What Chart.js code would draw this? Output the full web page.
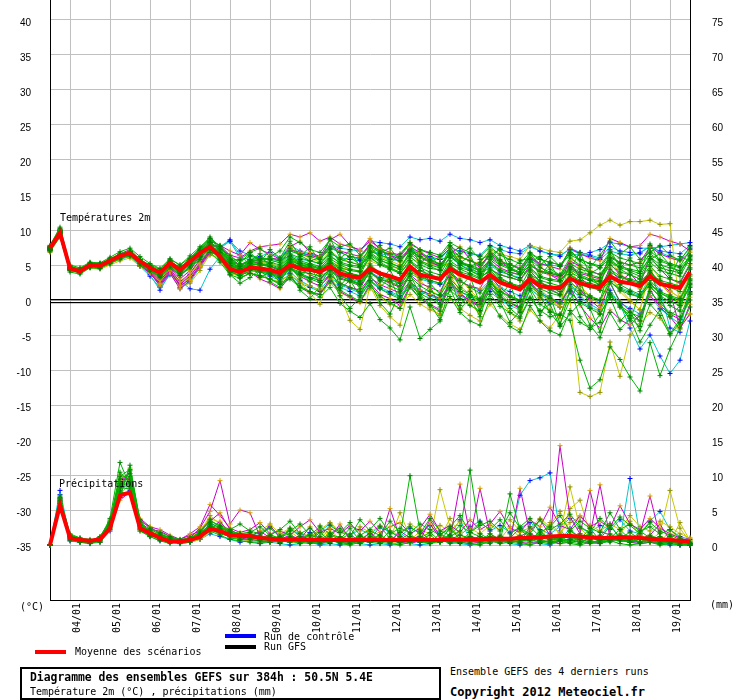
<!DOCTYPE html>
<html>
<head>
<meta charset="utf-8">
<script src="https://cdn.jsdelivr.net/npm/chart.js@4"></script>
<style>
html,body{margin:0;padding:0;background:#fff;}
#wrap{position:relative;width:740px;height:700px;background:#fff;overflow:hidden;}
#c{position:absolute;left:0;top:-28px;}
.t{position:absolute;font-family:"DejaVu Sans Mono",monospace;font-size:10px;line-height:12px;color:#000;white-space:pre;}
.b{font-weight:bold;}
.bar{position:absolute;height:4px;}
#box{position:absolute;left:20px;top:667px;width:417px;height:29px;border:2px solid #000;}
</style>
</head>
<body>
<div id="wrap">
<canvas id="c" width="740" height="678"></canvas>
<div class="t" style="left:60px;top:212px;">Températures 2m</div>
<div class="t" style="left:59px;top:478px;">Précipitations</div>
<div class="t" style="left:20px;top:601px;">(°C)</div>
<div class="t" style="left:710px;top:599px;">(mm)</div>
<div class="bar" style="left:35px;top:650px;width:31px;background:#ff0000;"></div>
<div class="t" style="left:75px;top:646px;">Moyenne des scénarios</div>
<div class="bar" style="left:225px;top:634px;width:31px;background:#0000ff;"></div>
<div class="t" style="left:264px;top:631px;">Run de contrôle</div>
<div class="bar" style="left:225px;top:645px;width:31px;background:#000;"></div>
<div class="t" style="left:264px;top:641px;">Run GFS</div>
<div id="box"></div>
<div class="t b" style="left:30px;top:670px;font-size:11.4px;line-height:14px;">Diagramme des ensembles GEFS sur 384h : 50.5N 5.4E</div>
<div class="t" style="left:30px;top:686px;">Température 2m (°C) , précipitations (mm)</div>
<div class="t" style="left:450px;top:666px;">Ensemble GEFS des 4 derniers runs</div>
<div class="t b" style="left:450px;top:685px;font-size:12px;line-height:14px;">Copyright 2012 Meteociel.fr</div>
</div>
<script>
// ---- axis tick labels ----
const dayLabels = ['04/01','05/01','06/01','07/01','08/01','09/01','10/01','11/01','12/01','13/01','14/01','15/01','16/01','17/01','18/01','19/01'];
const tempTicks = [-35,-30,-25,-20,-15,-10,-5,0,5,10,15,20,25,30,35,40];
const precipTicks = [0,5,10,15,20,25,30,35,40,45,50,55,60,65,70,75];
// time steps: 6-hourly from 03/01 12h to 19/01 12h (65 steps)
const steps = ['03/01 12h','03/01 18h','04/01 00h','04/01 06h','04/01 12h','04/01 18h','05/01 00h','05/01 06h','05/01 12h','05/01 18h','06/01 00h','06/01 06h','06/01 12h','06/01 18h','07/01 00h','07/01 06h','07/01 12h','07/01 18h','08/01 00h','08/01 06h','08/01 12h','08/01 18h','09/01 00h','09/01 06h','09/01 12h','09/01 18h','10/01 00h','10/01 06h','10/01 12h','10/01 18h','11/01 00h','11/01 06h','11/01 12h','11/01 18h','12/01 00h','12/01 06h','12/01 12h','12/01 18h','13/01 00h','13/01 06h','13/01 12h','13/01 18h','14/01 00h','14/01 06h','14/01 12h','14/01 18h','15/01 00h','15/01 06h','15/01 12h','15/01 18h','16/01 00h','16/01 06h','16/01 12h','16/01 18h','17/01 00h','17/01 06h','17/01 12h','17/01 18h','18/01 00h','18/01 06h','18/01 12h','18/01 18h','19/01 00h','19/01 06h','19/01 12h'];

// ---- mean of scenarios ----
const tempMean = [7.4,9.6,4.5,4.1, 5.0,4.9,5.6,6.3, 6.7,5.5,4.6,3.9, 5.3,4.3,5.5,6.7, 7.6,6.2,4.4,4.0, 4.6,4.5,4.3,3.9, 5.0,4.5,4.3,4.0, 4.8,3.8,3.4,3.2, 4.5,3.8,3.4,2.9, 4.8,3.6,3.3,3.0, 4.5,3.6,3.1,2.5, 3.6,2.5,2.0,1.5, 3.0,2.0,1.8,1.7, 3.1,2.4,2.0,1.8, 3.4,2.6,2.4,2.0, 3.4,2.3,2.0,1.7, 4.0];
const precipMean = [0,5.7,1.0,0.7, 0.6,0.8,2.4,7.1, 7.5,2.4,1.7,1.0, 0.5,0.5,0.7,1.2, 2.3,2.0,1.4,1.3, 1.3,1.0,0.9,0.8, 0.8,0.8,0.7,0.7, 0.7,0.7,0.7,0.7, 0.7,0.7,0.7,0.7, 0.7,0.8,0.7,0.7, 0.8,0.8,0.8,0.8, 0.9,0.9,0.9,1.0, 1.0,1.1,1.2,1.3, 1.3,1.2,1.1,1.0, 1.0,1.1,1.1,1.0, 0.9,0.8,0.7,0.6, 0.5];

// ---- temperature members (green run) ----
const tG1 = [7.6,10.2,4.8,4.3, 5.2,5.1,5.9,6.6, 7.0,5.8,4.9,4.2, 5.6,4.6,5.8,7.1, 8.2,6.8,4.9,4.5, 5.2,5.0,4.8,4.4, 5.8,5.2,5.0,4.6, 5.9,5.0,4.4,4.1, 6.0,5.1,4.6,4.0, 6.2,5.0,4.5,4.3, 6.1,5.2,4.8,4.1, 5.4,4.3,3.9,3.6, 5.0,4.1,3.8,3.5, 5.2,4.4,4.0,3.7, 5.6,4.8,4.4,4.1, 5.9,4.6,4.2,3.9, 6.4];
const tG2 = [7.2,9.4,4.3,4.0, 4.8,4.7,5.4,6.1, 6.5,5.2,4.3,3.6, 5.0,4.0,5.2,6.4, 7.4,6.0,4.0,3.5, 4.2,4.0,3.7,3.2, 4.4,3.6,3.0,2.5, 3.6,2.4,1.8,1.2, 2.8,1.6,0.8,0.2, 2.0,0.9,0.2,-0.6, 1.4,0.2,-0.8,-1.5, 0.8,-0.9,-1.8,-2.6, 0.2,-1.5,-2.4,-2.0, -2.9,-8.6,-12.6,-11.4, -6.7,-8.5,-11.0,-13.0, -6.1,-10.8,-7.0,-4.0, -1.0];
const tG3 = [7.0,9.0,4.0,3.7, 4.6,4.5,5.2,5.9, 6.3,5.0,4.1,3.4, 4.6,3.5,4.6,5.8, 6.8,5.4,3.6,3.1, 3.8,3.5,3.0,2.4, 3.2,2.0,1.2,0.4, 1.8,-0.5,-1.6,-2.5, -0.5,-2.8,-4.0,-5.7, -1.0,-5.5,-4.2,-3.0, 0.5,-1.8,-3.0,-3.6, 0.2,-2.4,-3.8,-4.6, -0.8,-3.0,-4.4,-5.0, -1.5,-3.2,-4.0,-3.2, 0.8,-1.0,-2.2,-3.0, 1.2,-0.4,-1.8,-2.4, 1.0];
const tG4 = [7.8,10.4,5.0,4.6, 5.4,5.3,6.1,6.9, 7.4,6.2,5.2,4.5, 5.9,5.0,6.3,7.6, 8.8,7.3,5.4,5.0, 5.8,5.9,5.7,5.3, 7.0,6.5,6.2,5.8, 7.6,6.8,6.2,6.0, 7.8,7.0,6.6,6.2, 8.0,7.2,6.8,6.4, 8.2,7.4,6.8,6.2, 7.6,6.4,5.8,5.2, 6.8,5.8,5.4,5.0, 6.4,5.8,5.2,4.9, 6.8,6.0,5.6,5.2, 7.0,5.8,5.2,4.8, 7.2];
const tG5 = [7.3,9.7,4.6,4.2, 5.0,5.0,5.7,6.4, 6.8,5.6,4.7,4.0, 5.4,4.4,5.7,7.0, 8.0,6.4,4.6,4.1, 4.8,4.6,4.4,4.0, 5.4,4.8,4.6,4.2, 5.2,4.2,3.8,3.5, 6.4,5.4,4.6,3.8, 5.6,4.2,3.6,3.0, 4.0,2.8,1.8,1.0, 2.6,1.2,0.6,0.0, 2.4,1.0,0.2,-0.4, 2.0,0.8,0.4,0.0, 2.6,1.4,0.8,0.4, 2.8,1.2,0.6,0.2, 3.0];
const tG6 = [7.5,9.9,4.4,4.0, 4.9,4.8,5.5,6.2, 6.6,5.4,4.5,3.8, 5.2,4.2,5.3,6.6, 7.8,6.6,4.8,4.4, 5.0,5.2,5.0,4.6, 6.2,5.6,5.2,4.8, 6.4,5.2,4.8,4.6, 6.8,5.8,5.0,4.4, 7.0,5.6,5.0,4.6, 6.6,5.4,4.6,3.8, 4.6,3.2,2.4,1.8, 4.4,3.2,2.8,2.6, 4.6,3.6,3.0,2.8, 5.0,4.0,3.6,3.0, 4.8,3.4,3.0,2.6, 5.2];
const tG7 = [7.1,9.3,4.2,3.9, 4.7,4.6,5.3,6.0, 6.4,5.3,4.4,3.7, 5.1,4.1,5.0,6.2, 7.2,5.8,4.0,3.6, 4.4,4.2,4.0,3.6, 4.6,4.0,3.8,3.4, 4.2,3.0,2.6,2.4, 3.8,3.0,2.6,2.0, 4.2,3.2,2.8,2.4, 4.8,4.0,3.6,3.0, 4.4,3.6,3.2,2.8, 4.6,3.4,3.0,2.8, 4.0,3.2,2.8,2.6, 5.4,4.6,4.2,3.8, 6.2,5.0,4.6,4.2, 5.8];
const tG8 = [7.4,9.8,4.7,4.4, 5.3,5.2,5.8,6.5, 6.9,5.7,4.8,4.1, 5.5,4.5,5.9,7.2, 8.4,7.0,5.2,4.8, 5.6,5.6,5.4,5.0, 6.6,6.0,5.6,5.2, 6.8,5.8,5.4,5.0, 6.2,5.0,4.4,3.8, 5.4,4.2,3.6,3.2, 5.6,4.6,4.2,3.6, 5.2,4.2,3.6,3.0, 1.6,-0.6,-1.6,-2.2, 1.2,-0.4,-1.2,-2.0, 0.6,-0.8,-1.8,-2.4, 1.8,0.6,-0.2,-0.8, 2.0];
const tG9 = [7.3,9.6,4.5,4.1, 5.0,4.9,5.6,6.3, 6.7,5.5,4.6,3.6, 5.3,4.2,5.4,6.6, 8.2,7.2,5.6,5.0, 5.4,5.2,4.8,4.4, 6.0,5.4,5.0,4.4, 5.2,3.6,2.8,2.2, 4.6,3.6,3.0,2.4, 4.6,3.4,2.8,2.4, 5.0,3.8,3.2,2.6, 6.0,5.0,4.4,3.8, 4.2,2.6,1.8,1.2, 2.6,1.4,0.6,0.0, 4.4,3.4,3.0,2.6, 4.0,2.6,1.8,1.2, 4.6];
const tG10 = [7.5,9.9,4.6,4.2, 5.1,5.0,5.7,6.4, 6.8,5.6,4.8,4.0, 5.4,4.4,5.6,7.0, 8.8,7.6,5.8,5.0, 5.6,5.8,6.0,5.6, 6.4,5.2,4.6,4.0, 5.6,4.6,4.2,4.0, 6.6,5.6,5.2,4.8, 6.6,5.4,4.8,4.2, 7.0,6.2,5.6,5.0, 6.2,5.2,4.6,4.0, 6.6,5.8,5.4,5.0, 6.8,5.8,5.2,4.6, 6.0,4.4,3.6,3.0, 5.4,4.2,3.8,3.4, 6.0];
const tG11 = [7.2,9.5,4.4,4.0, 4.9,4.8,5.4,6.1, 6.5,5.3,4.3,3.4, 5.0,3.8,5.0,6.2, 7.6,6.4,4.4,3.2, 3.8,3.4,3.0,2.2, 3.0,1.8,1.2,0.8, 2.6,1.4,0.6,-0.2, 2.0,0.6,-0.4,-1.2, 1.8,0.2,-0.8,-1.6, 2.4,1.2,0.6,0.0, 2.2,0.6,-0.4,-1.0, 3.2,2.0,1.4,0.8, 3.6,2.6,2.0,1.4, 1.0,-1.0,-2.6,-3.8, 2.0,0.4,-0.8,-1.6, 3.6];
const tG12 = [7.4,9.7,4.5,4.2, 5.0,4.9,5.6,6.4, 6.8,5.5,4.5,3.8, 5.2,4.3,5.5,6.8, 8.0,6.6,4.6,4.2, 4.6,4.4,4.2,3.8, 5.2,4.6,4.2,3.8, 5.4,4.4,3.8,3.4, 5.0,3.8,3.2,2.8, 4.8,3.8,3.4,3.0, 5.2,4.4,3.8,3.2, 4.2,3.0,2.4,2.0, 3.4,2.4,2.0,1.8, 3.6,2.8,2.4,2.0, 4.0,3.2,2.8,2.4, 3.8,2.8,2.4,2.0, 4.4];
const tG13 = [7.2,9.5,4.4,4.0, 5.0,4.8,5.5,6.2, 6.6,5.4,4.4,3.6, 5.2,4.0,5.2,6.5, 7.8,6.2,4.2,3.8, 4.6,4.6,4.4,4.0, 5.6,5.0,4.8,4.4, 6.2,5.4,5.0,4.8, 7.0,6.4,6.0,5.6, 7.2,6.2,5.6,5.2, 6.4,5.0,4.2,3.4, 4.0,2.8,2.2,1.6, 2.8,1.6,1.0,0.6, 3.0,2.2,1.8,1.4, 2.6,1.6,1.0,0.4, 2.2,1.0,0.4,0.0, 2.8];
const tG14 = [7.6,10.0,4.6,4.3, 5.2,5.1,5.8,6.5, 6.9,5.7,4.7,4.0, 5.4,4.5,5.7,6.9, 8.0,6.4,4.4,4.0, 4.4,4.2,3.8,3.4, 4.6,3.8,3.2,2.8, 4.6,3.4,2.8,2.4, 4.8,3.8,3.2,2.6, 5.6,4.6,4.0,3.6, 6.2,5.4,5.0,4.4, 6.6,5.6,5.0,4.4, 5.8,4.6,4.0,3.6, 4.4,3.4,2.8,2.2, 3.6,2.2,1.4,0.8, 2.4,1.0,0.2,-0.4, 1.8];
const tG15 = [7.3,9.7,4.6,4.2, 5.0,4.9,5.6,6.3, 6.7,5.4,4.5,3.8, 5.2,4.2,5.4,6.6, 7.8,6.8,5.0,4.6, 5.2,5.0,4.8,4.4, 5.8,5.0,4.6,4.2, 5.0,3.8,3.2,2.8, 4.0,2.8,2.0,1.4, 3.4,2.0,1.2,0.6, 3.0,1.6,0.8,0.2, 2.6,1.2,0.4,-0.2, 3.6,2.8,2.4,2.0, 4.8,4.0,3.6,3.2, 6.0,5.4,5.0,4.6, 6.6,5.6,5.0,4.6, 6.2];
const tG16 = [7.5,9.9,4.5,4.1, 5.1,5.0,5.7,6.4, 6.9,5.7,4.7,4.1, 5.6,4.6,5.9,7.3, 8.6,7.8,6.4,5.2, 6.8,5.4,7.2,6.0, 8.4,6.2,7.6,5.4, 8.8,6.0,7.0,4.8, 6.4,7.8,5.2,6.6, 8.2,5.0,6.8,4.4, 7.6,5.2,6.4,3.6, 5.8,7.4,4.2,5.6, 6.0,3.4,5.2,2.8, 4.4,6.8,3.6,1.8, 7.2,4.6,6.0,3.8, 8.0,5.4,3.2,6.2, 5.6];
const tG17 = [7.3,9.6,4.4,4.0, 4.9,4.8,5.6,6.3, 6.7,5.6,4.4,3.8, 5.2,4.4,5.5,6.8, 7.8,6.8,5.8,4.2, 5.6,6.6,4.6,3.4, 6.0,3.8,2.6,4.2, 5.8,2.0,3.6,1.6, 4.2,2.6,4.4,1.2, 3.8,5.2,2.4,0.8, 4.6,1.8,3.4,-0.6, 3.0,0.4,2.4,-1.8, 1.4,-2.2,0.6,-3.4, 0.0,2.8,-1.2,-4.6, 2.6,-0.4,-3.0,1.2, 4.2,0.2,-2.4,-0.8, 2.2];
const tG18 = [7.6,10.0,4.7,4.2, 5.1,5.1,5.8,6.5, 6.9,5.8,5.0,4.4, 5.8,5.0,6.0,7.4, 9.0,7.6,5.6,5.8, 6.8,7.4,6.2,7.0, 9.0,8.2,7.2,6.8, 8.6,7.6,8.0,6.4, 7.6,6.8,7.4,5.6, 7.0,6.2,5.4,6.2, 7.8,6.6,7.4,5.8, 6.4,7.2,5.2,4.4, 6.6,5.0,6.2,4.8, 7.2,5.6,4.6,6.4, 8.4,6.6,7.6,5.8, 6.8,7.8,6.4,5.6, 7.6];
const tG19 = [7.1,9.3,4.3,3.9, 4.8,4.7,5.4,6.1, 6.5,5.3,4.2,3.2, 4.8,3.6,4.8,6.0, 7.4,6.0,3.6,2.4, 3.2,4.4,2.6,1.8, 3.8,1.4,0.2,2.0, 3.4,0.6,-1.2,0.4, 2.6,-0.4,-2.0,1.0, 3.6,0.8,-0.6,-2.8, 1.6,-1.4,0.4,-2.4, 2.0,-0.2,-3.2,-1.6, 2.4,0.6,-1.8,-3.6, 1.4,-2.4,-4.2,-2.0, 0.4,-3.0,-1.6,-4.4, -0.6,-2.2,-5.0,-3.2, 0.8];
const tG20 = [7.4,9.7,4.6,4.2, 5.0,4.9,5.6,6.3, 6.8,5.6,4.7,4.0, 5.4,4.4,5.6,6.9, 8.2,7.4,6.0,5.6, 6.2,6.0,5.2,5.8, 7.4,6.4,5.6,6.0, 7.2,5.4,6.2,5.0, 7.6,6.0,5.4,4.6, 6.4,7.0,5.8,5.0, 6.8,5.6,4.8,5.4, 7.0,5.8,4.6,3.8, 5.4,6.2,4.4,3.6, 6.0,5.0,3.8,4.6, 6.6,5.2,4.0,3.4, 5.8,6.6,5.0,3.8, 6.4];
const tG21 = [7.2,9.4,4.4,4.1, 4.9,4.8,5.5,6.2, 6.6,5.5,4.5,3.8, 5.3,4.1,5.3,6.6, 7.9,6.4,4.8,3.6, 5.4,3.2,4.0,2.6, 4.8,3.0,5.0,2.2, 4.4,1.6,2.8,0.6, 3.4,1.8,3.2,-0.2, 2.8,0.4,2.0,-1.0, 3.2,-0.8,1.2,-1.6, 2.6,0.8,-1.2,-2.4, 0.4,-1.6,-0.6,-3.8, -2.0,-0.4,-3.6,-5.4, -1.8,-4.2,-2.6,-6.0, -3.6,-1.4,-4.8,-2.8, 0.0];
// ---- temperature members (yellow run) ----
const tY1 = [7.0,9.2,4.3,3.9, 4.7,4.6,5.2,5.9, 6.4,5.3,4.3,3.5, 4.8,3.8,4.4,5.4, 6.8,5.6,3.8,3.4, 4.2,4.2,4.0,3.6, 4.8,4.4,4.2,3.8, 5.2,4.6,4.4,4.2, 5.6,5.0,4.8,4.4, 6.0,5.4,5.2,4.8, 6.6,6.0,5.6,5.2, 7.2,6.6,6.2,5.8, 7.8,7.4,7.0,6.8, 8.4,8.6,9.6,10.7, 11.4,10.7,11.2,11.2, 11.4,10.8,10.9,-1.4, 1.0];
const tY2 = [6.8,9.0,4.2,3.9, 4.6,4.4,5.0,5.6, 6.0,4.8,3.8,2.6, 4.2,2.0,3.2,4.8, 6.4,6.0,4.2,3.2, 3.8,3.4,3.0,2.6, 3.6,2.6,2.0,1.4, 2.4,1.0,0.4,-0.2, 1.6,0.4,-0.6,-1.2, 0.8,-0.6,-1.4,-2.0, 0.2,-1.2,-2.2,-3.0, -0.6,-2.2,-3.4,-4.2, -1.4,-3.0,-4.0,-2.0, 0.0,-13.2,-13.8,-13.2, -6.0,-10.9,-5.0,-3.4, -1.8,-2.6,-4.8,-3.6, -2.0];
const tY3 = [7.6,10.0,4.9,4.5, 5.2,5.0,5.6,6.4, 7.0,5.4,4.0,2.6, 4.0,1.8,2.4,4.2, 6.6,7.2,5.6,4.6, 5.2,5.4,5.2,4.8, 7.6,6.6,6.0,5.4, 7.0,6.0,5.4,5.0, 7.4,6.2,5.6,5.0, 7.8,6.4,5.8,5.2, 5.0,3.0,1.4,0.0, 3.0,1.0,-0.4,-1.2, 2.6,0.8,-0.2,-1.0, 6.4,4.6,3.4,2.4, 5.8,3.8,2.6,1.6, 4.4,2.2,1.2,0.4, 3.4];
const tY4 = [7.2,9.5,4.4,4.0, 4.8,4.6,5.3,6.0, 6.5,5.2,4.2,3.0, 4.4,2.4,3.6,5.6, 7.4,6.8,5.0,4.2, 4.8,4.8,4.4,3.8, 4.2,2.6,1.0,-0.6, 3.8,0.6,-2.9,-4.2, 2.0,-0.8,-2.4,-3.6, 2.8,0.4,-1.0,-2.2, 3.6,1.2,-0.6,-2.0, 3.2,0.0,-1.8,-3.0, 4.0,1.6,0.2,-1.0, 4.6,2.0,0.6,-0.8, 3.8,1.2,-0.2,-1.4, 5.0,3.0,1.4,0.2, 2.6];
const tY5 = [7.1,9.3,4.3,3.9, 4.7,4.6,5.3,6.0, 6.4,5.2,4.0,2.8, 4.4,2.6,3.4,5.0, 6.8,6.6,5.4,4.6, 5.0,5.6,4.8,4.2, 6.0,5.2,4.4,3.6, 5.6,4.8,3.6,2.8, 5.2,3.8,2.6,1.8, 4.4,2.8,1.4,0.6, 3.8,2.0,0.8,-0.4, 3.0,1.4,-0.2,-1.6, 2.2,0.2,-1.4,-2.6, 2.8,0.8,-0.8,-2.0, 3.4,1.6,0.0,-1.4, 4.0,2.4,0.8,-0.6, 3.0];
// ---- temperature members (magenta run) ----
const tM1 = [7.6,10.0,4.6,4.2, 5.1,5.0,5.7,6.5, 7.0,5.6,4.4,3.2, 4.6,3.0,4.2,6.4, 8.0,7.4,6.4,6.0, 7.0,7.6,7.8,8.0, 9.4,9.0,9.6,8.4, 9.0,8.0,7.6,7.2, 8.4,7.4,6.8,6.4, 8.2,7.2,6.6,6.0, 7.4,6.2,5.6,5.0, 6.4,5.4,5.0,4.6, 6.2,5.2,4.8,4.4, 7.4,6.6,6.0,5.6, 8.8,8.2,7.6,7.8, 9.4,9.0,8.4,8.0, 7.0];
const tM2 = [7.3,9.6,4.5,4.1, 5.0,4.9,5.5,6.2, 6.6,5.2,4.0,2.4, 4.2,2.0,3.0,5.0, 7.0,6.6,5.0,4.4, 5.0,4.6,4.0,3.4, 4.6,3.4,2.6,2.0, 3.6,2.4,1.8,1.4, 3.2,2.2,1.6,1.0, 2.6,1.4,0.8,0.2, 2.2,0.8,0.0,-0.8, 1.8,0.4,-0.4,-1.2, 2.6,1.0,0.2,-0.6, 1.8,-0.8,-2.6,-4.0, -1.4,-2.8,-3.6,-2.2, 0.6,-0.8,-2.0,-2.8, 0.4];
const tM3 = [7.0,9.1,4.3,4.0, 4.8,4.7,5.3,6.0, 6.4,5.0,3.8,2.2, 4.0,2.2,3.4,5.2, 7.2,7.0,5.4,4.6, 5.4,5.8,6.0,5.8, 7.2,6.8,6.4,6.0, 7.8,7.0,6.6,6.2, 8.0,7.0,6.4,5.8, 7.2,6.0,5.4,4.8, 6.6,5.4,4.8,4.2, 5.8,4.6,4.0,3.6, 5.0,4.0,3.6,3.2, 4.6,3.8,3.4,3.0, 6.2,5.4,5.0,5.4, 7.6,6.6,6.0,5.6, 6.8];
const tM4 = [7.8,10.1,4.8,4.4, 5.3,5.2,5.8,6.6, 7.2,5.8,4.6,3.6, 4.8,3.4,4.8,6.8, 8.4,7.8,6.0,5.0, 5.6,5.2,4.8,4.2, 5.6,4.4,3.6,3.0, 4.4,3.2,2.6,2.0, 4.0,3.0,2.4,1.8, 3.6,2.4,1.8,1.2, 3.8,2.6,2.0,1.6, 4.4,3.6,3.2,2.8, 5.0,4.2,3.8,3.4, 5.6,4.8,4.2,3.6, 5.2,3.6,2.6,1.8, 4.2,2.4,1.2,-4.0, -2.0];
const tM5 = [7.5,9.8,4.6,4.2, 5.0,5.0,5.6,6.4, 6.8,5.4,4.2,2.8, 4.4,2.6,3.8,5.8, 7.6,7.8,7.0,6.4, 8.2,7.2,6.6,5.8, 7.6,8.4,6.8,6.2, 8.6,9.4,7.8,7.0, 8.8,7.2,6.4,5.4, 7.6,6.8,5.6,4.8, 6.6,7.6,5.8,4.6, 6.8,5.6,4.4,3.8, 6.2,4.8,3.6,2.8, 5.4,3.2,2.0,1.4, 4.6,2.6,3.8,2.2, 6.2,4.4,3.0,2.4, 5.0];
const tM6 = [7.2,9.5,4.4,4.0, 4.9,4.8,5.5,6.1, 6.5,5.1,3.9,2.0, 3.8,1.6,2.8,4.8, 6.8,6.4,4.6,3.6, 4.0,3.0,2.4,1.6, 3.4,1.8,1.0,0.8, 3.0,1.2,0.4,-0.4, 2.4,0.8,0.2,-0.8, 2.0,0.2,-0.6,-1.4, 2.8,1.0,-0.2,-1.0, 3.4,1.8,0.6,-0.2, 4.2,2.6,1.6,0.8, 3.6,1.4,0.0,-1.2, 2.4,-0.2,-1.6,-3.0, 1.6,-1.0,-2.4,-4.2, -0.6];
// ---- temperature members (cyan run) ----
const tC1 = [7.5,9.8,4.6,4.2, 5.1,5.0,5.6,6.3, 6.7,5.3,4.0,2.0, 4.0,1.6,2.6,4.6, 6.6,7.4,8.4,7.0, 6.4,6.0,5.8,5.6, 7.0,6.6,6.4,6.2, 7.8,7.4,7.2,7.0, 8.4,8.2,8.0,7.6, 9.0,8.6,8.8,8.4, 9.4,8.8,8.6,8.2, 8.6,7.8,7.4,7.0, 7.8,7.0,6.6,6.2, 7.4,6.8,6.4,6.0, 7.6,7.0,6.8,6.6, 7.8,6.8,6.2,5.8, 7.4];
const tC2 = [7.2,9.4,4.4,4.0, 4.9,4.8,5.4,6.1, 6.5,5.0,3.6,1.4, 3.8,1.8,3.0,5.0, 7.0,6.8,5.2,4.4, 4.8,4.4,3.8,3.2, 4.0,2.8,2.0,1.4, 3.2,2.2,1.6,1.0, 2.8,1.8,1.2,0.6, 2.4,1.4,0.8,0.2, 2.2,1.2,0.4,-0.2, 1.6,0.4,-0.4,-1.0, 2.0,0.8,0.0,-0.6, 1.0,-0.2,-1.0,-1.6, 1.4,-0.6,-4.0,-7.0, -5.0,-8.0,-10.5,-8.6, -3.0];
const tC3 = [7.6,10.0,4.7,4.3, 5.2,5.1,5.8,6.5, 6.9,5.6,4.6,3.4, 5.0,3.6,4.8,6.6, 8.0,7.6,8.4,6.0, 5.8,5.4,5.2,4.8, 6.4,5.8,5.6,5.2, 6.6,6.0,5.8,5.6, 7.2,6.6,6.4,6.0, 7.4,6.6,6.2,5.8, 6.2,5.0,4.4,3.8, 5.0,4.0,3.6,3.2, 5.8,5.2,5.0,4.8, 6.6,6.4,6.8,7.2, 8.2,8.0,7.6,7.4, 7.4,7.6,7.8,8.0, 8.2];
const tC4 = [7.0,9.2,4.3,3.9, 4.7,4.6,5.2,5.8, 6.2,4.8,3.4,1.8, 3.6,2.8,1.6,1.4, 4.4,6.2,5.0,4.0, 4.4,4.0,3.4,2.8, 3.6,2.4,1.8,1.2, 2.8,1.8,1.2,0.6, 2.6,1.6,1.0,0.4, 2.2,1.2,0.6,0.0, 1.8,0.6,-0.2,-0.8, 1.2,0.0,-0.8,-1.4, 1.6,0.4,-0.4,-1.0, 2.2,1.0,0.2,-0.4, 3.0,1.8,1.2,0.6, 3.4,1.4,-4.0,-4.6, 2.4];
const tC5 = [7.4,9.7,4.5,4.1, 5.0,4.9,5.6,6.2, 6.6,5.4,4.2,2.6, 4.4,2.4,3.6,5.6, 7.2,6.2,5.6,5.0, 5.6,6.2,6.8,6.0, 7.8,7.0,6.6,6.2, 7.4,6.8,6.2,5.8, 7.0,6.4,5.8,5.6, 7.2,6.6,6.0,5.8, 7.4,7.0,6.6,6.4, 7.8,7.2,6.8,6.6, 7.6,7.0,6.6,6.4, 7.2,6.6,6.2,5.8, 7.0,6.6,6.4,6.8, 7.6,7.0,6.8,6.6, 7.8];
const tC6 = [7.3,9.5,4.4,4.0, 4.9,4.8,5.4,6.0, 6.4,5.0,3.8,2.2, 4.2,2.4,3.4,5.2, 7.0,7.6,8.6,6.4, 5.0,4.2,3.6,3.0, 4.6,3.6,3.2,2.8, 4.2,3.4,3.0,2.6, 4.0,3.2,2.8,2.4, 3.8,3.0,2.6,2.2, 3.4,2.6,2.0,1.4, 2.8,1.8,1.2,0.6, 2.2,1.2,0.4,-0.4, 1.6,0.4,-0.6,-1.4, 1.0,-0.4,-1.2,-2.0, 0.6,-1.2,-2.4,-3.4, 1.2];

// ---- precipitation members (mm) ----
const pG1 = [0,6.4,1.2,0.4, 0.3,0.6,3.0,8.4, 9.0,2.8,2.0,1.2, 0.4,0.3,0.6,1.0, 2.6,2.2,1.4,1.2, 1.0,1.4,0.8,0.6, 0.4,0.8,1.6,0.6, 1.2,0.4,0.2,0.8, 1.6,0.6,0.4,1.2, 9.9,2.0,0.6,0.8, 1.4,0.4,1.8,1.2, 0.6,0.4,1.0,2.4, 1.2,0.6,0.4,0.2, 0.8,1.6,0.6,0.4, 1.0,2.2,0.8,0.4, 0.6,0.2,0.4,0.2, 0];
const pG2 = [0,7.0,0.8,0.6, 0.4,1.0,3.8,11.8, 8.4,2.4,1.6,0.8, 0.6,0.2,0.4,1.4, 2.2,1.6,1.2,1.6, 1.8,0.6,0.4,1.0, 0.6,0.2,0.8,1.8, 0.6,1.0,0.4,0.2, 0.8,2.6,1.0,0.4, 0.6,0.8,1.4,0.4, 1.2,2.0,10.7,1.6, 0.8,0.4,7.3,2.2, 1.0,0.6,1.4,0.8, 0.4,0.2,1.2,0.6, 1.6,0.8,0.4,2.0, 1.0,0.4,0.2,0.6, 0.2];
const pG3 = [0,5.4,1.4,0.8, 0.5,0.4,2.2,6.8, 11.4,3.4,1.4,1.0, 0.6,0.4,0.4,1.6, 3.0,1.8,1.6,1.0, 1.2,0.8,1.2,0.4, 1.0,0.6,0.4,0.2, 0.4,0.8,2.4,0.6, 0.4,0.2,1.2,0.8, 1.6,0.4,0.2,0.6, 2.4,0.8,0.6,0.4, 0.2,1.2,0.6,0.4, 2.6,1.2,0.8,0.6, 1.4,0.4,0.2,0.8, 2.8,1.0,0.6,0.4, 1.2,0.6,0.4,0.2, 0];
const pG4 = [0,6.0,0.6,0.4, 0.2,0.6,2.6,7.6, 7.2,2.0,1.2,0.6, 0.2,0.6,0.8,1.2, 2.0,1.4,0.8,0.6, 0.4,0.2,0.6,1.2, 1.6,0.4,0.2,0.4, 0.8,0.2,0.0,0.4, 0.6,0.4,0.2,0.0, 0.4,0.6,0.2,0.8, 0.2,0.4,0.2,0.0, 0.6,0.2,0.4,0.2, 0.0,0.4,0.2,0.6, 0.2,0.0,0.4,0.2, 0.6,0.2,0.0,0.2, 0.4,0.0,0.2,0.0, 0];
const pG5 = [0,5.6,1.0,0.8, 0.6,1.2,3.4,9.4, 10.2,3.0,1.8,1.4, 0.8,0.4,0.8,2.0, 3.6,2.6,2.0,1.6, 1.4,1.0,0.8,0.6, 2.4,1.2,0.6,0.8, 1.6,1.0,0.6,0.4, 1.0,0.6,2.0,1.0, 0.8,0.6,0.4,1.6, 0.8,1.4,1.0,0.8, 0.6,1.0,0.8,1.4, 0.8,1.6,1.0,0.6, 2.0,1.2,0.8,1.4, 0.6,1.0,1.8,0.8, 1.4,0.8,0.6,0.4, 0.2];
const pG6 = [0,6.6,1.6,1.0, 0.8,0.8,2.8,8.8, 9.8,2.6,2.2,1.6, 1.0,0.6,1.0,1.8, 2.8,2.0,1.8,1.4, 1.6,1.2,1.0,0.8, 1.2,0.8,1.4,1.0, 0.6,0.4,0.8,1.2, 0.8,1.4,0.6,0.4, 1.2,0.8,0.6,0.4, 0.6,0.8,1.2,0.6, 1.6,0.8,0.6,1.0, 1.4,0.8,0.4,0.6, 0.8,1.0,1.6,0.8, 0.6,1.4,1.0,0.8, 1.0,0.6,1.2,0.4, 0.2];
const pG7 = [0,6.2,1.0,0.6, 0.4,0.8,2.6,8.2, 8.0,2.6,1.8,1.2, 0.8,0.6,0.8,1.4, 2.4,1.8,1.4,1.2, 1.0,0.8,0.6,0.4, 0.6,1.0,0.8,0.6, 0.4,1.2,0.8,0.4, 1.2,0.8,0.6,0.4, 0.8,1.2,0.6,0.4, 1.0,0.6,0.4,0.8, 1.2,0.8,0.6,0.4, 1.0,0.8,1.2,0.6, 0.8,0.4,1.0,0.6, 0.4,0.8,0.6,1.0, 0.6,0.4,0.8,0.2, 0.2];
const pG8 = [0,5.9,1.2,0.8, 0.6,0.6,2.4,7.8, 10.6,3.0,2.0,1.0, 0.6,0.4,0.6,1.2, 3.2,2.4,1.8,1.4, 1.2,1.0,1.4,1.0, 0.8,0.4,1.0,0.6, 1.4,0.8,1.6,0.4, 0.6,1.0,0.4,0.8, 0.4,1.0,1.8,0.6, 0.6,0.4,1.2,0.8, 0.4,1.4,0.6,0.8, 0.6,2.0,0.8,1.0, 1.2,0.8,2.4,0.6, 1.0,0.6,0.8,0.4, 0.8,1.2,0.4,0.2, 0.0];
const pG9 = [0,6.8,1.4,1.0, 0.6,1.0,3.2,10.4, 8.8,2.8,1.4,0.8, 0.6,0.4,1.0,1.6, 2.6,2.2,1.0,0.8, 0.8,0.6,0.4,0.8, 1.0,0.4,0.6,0.4, 0.8,0.6,0.4,1.4, 0.6,0.4,0.8,0.6, 1.0,0.4,0.6,0.8, 0.4,0.6,0.8,1.2, 0.8,0.6,0.4,0.6, 0.8,0.4,0.6,1.0, 0.6,0.8,0.4,0.6, 1.2,0.6,0.4,0.8, 0.6,0.8,0.4,0.2, 0.2];
const pG10 = [0,6.0,1.2,0.8, 0.6,1.0,3.0,9.8, 10.8,3.6,2.4,1.8, 1.2,0.8,1.0,1.6, 2.8,2.4,2.0,1.6, 1.8,2.6,1.4,2.2, 3.4,1.6,2.4,1.2, 2.8,1.8,3.2,1.4, 2.2,3.8,1.6,2.4, 1.8,3.0,2.2,1.4, 2.6,4.2,1.8,2.8, 3.4,2.0,4.6,2.4, 1.6,3.6,2.2,3.0, 4.4,2.6,1.8,3.8, 2.4,4.0,2.8,1.6, 3.2,2.0,1.4,0.8, 0.4];
const pG11 = [0,6.4,1.0,0.6, 0.4,0.8,2.8,8.6, 9.4,3.2,1.8,1.4, 1.0,0.6,0.8,1.8, 3.4,2.8,2.2,3.0, 2.0,1.6,2.4,1.2, 2.0,3.0,1.4,2.6, 1.6,2.4,1.2,3.6, 2.0,1.4,3.4,1.8, 2.6,1.6,3.8,2.0, 1.4,2.8,1.8,3.2, 2.2,3.6,1.6,2.6, 3.8,1.8,2.6,4.2, 2.0,3.4,2.4,1.8, 4.6,2.2,3.0,2.0, 2.6,1.6,2.2,1.0, 0.4];
const pY1 = [0,6.2,1.4,0.6, 0.4,0.8,3.2,9.0, 8.2,2.6,1.8,1.0, 0.6,0.4,0.6,1.4, 2.4,2.0,2.4,1.0, 0.8,1.2,0.6,0.4, 1.0,0.6,0.4,2.8, 0.8,0.4,0.6,0.2, 1.4,0.6,0.4,0.8, 0.6,2.0,0.8,7.9, 2.6,0.8,0.4,0.6, 1.0,0.4,0.8,0.6, 0.4,1.2,3.2,1.6, 8.3,2.4,1.0,0.8, 0.6,1.2,0.8,1.4, 0.6,1.8,7.8,2.4, 0.4];
const pY2 = [0,5.8,0.8,0.4, 0.6,0.4,2.4,7.2, 8.8,3.6,1.6,0.8, 0.4,0.2,0.4,0.8, 1.8,2.6,1.2,0.8, 0.6,0.4,1.6,0.8, 0.4,0.2,0.6,0.4, 1.8,0.6,0.2,0.4, 0.6,1.2,0.4,0.2, 0.4,0.6,0.2,0.4, 1.0,0.4,0.6,0.2, 0.4,0.8,2.6,1.0, 0.6,0.4,0.2,1.2, 5.2,6.4,1.6,0.8, 1.0,0.6,0.4,0.8, 0.4,0.2,2.2,0.8, 0.2];
const pY3 = [0,6.8,1.2,0.8, 0.6,0.8,3.6,10.0, 9.4,2.2,1.2,1.4, 0.8,0.6,1.2,1.8, 4.2,3.0,1.6,1.2, 1.0,0.8,0.6,1.4, 2.0,0.8,0.6,1.0, 2.2,0.8,0.4,0.6, 1.0,0.4,0.8,4.6, 1.2,0.8,0.6,1.0, 3.8,1.4,0.8,0.6, 1.2,0.6,0.4,0.8, 1.6,0.8,2.8,4.8, 2.0,1.0,0.6,0.4, 0.8,1.6,3.4,1.2, 0.8,0.6,0.4,3.2, 0.6];
const pY4 = [0,6.6,1.0,0.6, 0.4,0.8,3.0,8.8, 8.4,2.8,2.0,1.6, 1.0,0.6,1.2,2.2, 3.8,3.2,2.0,1.6, 1.4,2.0,3.0,1.6, 2.4,1.8,1.2,2.2, 3.2,2.0,1.4,2.6, 1.8,2.8,2.0,1.4, 3.0,2.2,1.6,2.8, 2.0,3.4,2.4,1.6, 2.8,2.2,3.6,2.0, 2.4,3.8,2.6,1.8, 3.2,4.0,2.8,2.0, 3.0,2.2,4.2,2.6, 2.0,3.4,2.6,1.6, 1.0];
const pM1 = [0,6.0,1.0,0.6, 0.4,1.0,3.0,8.0, 11.0,3.2,2.2,2.0, 1.2,0.6,1.0,2.4, 4.8,9.2,3.0,5.0, 4.6,1.2,2.8,1.0, 0.6,1.4,0.8,0.4, 1.0,0.6,0.4,1.2, 0.8,0.6,5.2,1.0, 0.6,1.4,3.0,1.0, 0.8,8.7,1.4,0.6, 1.2,0.8,0.4,8.1, 1.6,1.0,0.8,14.2, 4.0,1.6,7.8,2.0, 1.4,0.8,0.6,1.6, 7.0,1.2,0.6,0.4, 0.2];
const pM2 = [0,6.4,1.2,0.8, 0.6,1.2,3.4,9.6, 9.2,3.8,2.6,1.6, 1.0,0.8,1.4,2.0, 3.4,4.6,2.2,1.4, 1.2,2.0,1.0,0.8, 1.4,0.8,2.6,0.6, 1.0,3.0,0.8,0.6, 1.8,0.6,0.4,2.0, 1.0,0.6,3.6,1.2, 0.8,0.6,1.0,8.1, 1.6,0.6,0.8,1.2, 2.0,3.6,1.4,1.0, 1.6,0.8,1.4,8.6, 1.0,0.6,1.2,0.8, 1.4,3.0,0.6,0.4, 0.2];
const pM3 = [0,5.2,0.8,0.6, 0.4,0.6,2.2,6.4, 7.6,2.0,1.4,1.0, 0.6,0.4,0.6,1.0, 2.2,3.4,1.6,1.0, 0.8,0.6,0.4,0.6, 0.8,0.6,0.4,0.2, 0.6,0.4,0.2,0.6, 0.4,0.8,0.6,0.4, 0.2,0.6,0.4,0.8, 0.6,0.4,0.2,0.4, 0.8,0.4,0.6,0.4, 0.2,0.4,0.6,0.2, 0.4,0.6,0.2,0.4, 0.6,0.8,0.4,0.2, 0.4,0.2,0.4,0.6, 1.0];
const pM4 = [0,6.2,1.4,0.8, 0.6,1.0,3.2,9.2, 9.6,3.4,2.6,2.2, 1.4,0.8,1.6,2.6, 5.8,4.2,2.4,1.8, 2.2,3.2,1.6,2.0, 1.4,2.6,3.6,1.8, 2.4,1.6,2.8,2.0, 3.4,1.8,2.6,3.2, 1.6,2.4,4.4,2.0, 2.8,1.8,3.6,2.2, 3.0,4.8,2.4,1.8, 3.6,2.6,5.4,2.8, 2.2,4.2,2.6,3.4, 2.4,5.6,3.0,2.2, 3.8,2.4,1.6,1.0, 0.6];
const pC1 = [0,7.8,1.0,0.6, 0.4,0.8,2.8,8.0, 8.6,2.4,1.6,1.2, 0.8,0.4,0.6,1.2, 2.6,2.2,1.2,0.8, 0.6,0.4,0.8,0.6, 0.4,0.6,1.8,0.8, 0.6,0.4,1.2,0.6, 0.4,0.8,0.6,1.8, 0.6,0.4,0.8,0.6, 1.4,3.6,0.8,0.6, 0.4,0.6,0.8,7.1, 9.2,9.6,10.3,2.0, 1.0,0.6,0.8,1.2, 3.0,0.8,9.5,1.4, 0.6,0.4,0.2,0.0, 0.0];
const pC2 = [0,6.6,0.6,0.4, 0.2,0.4,2.0,6.8, 7.8,2.2,1.2,0.6, 0.4,0.2,0.4,0.8, 1.6,1.2,0.8,0.4, 0.6,0.2,0.4,0.2, 0.0,0.2,0.4,0.0, 0.2,0.0,0.4,0.2, 0.0,0.2,0.0,0.4, 0.2,0.0,0.2,0.6, 0.4,0.2,0.0,0.2, 0.4,0.6,0.2,0.0, 0.4,0.2,0.0,0.6, 2.4,0.8,0.4,0.2, 0.6,1.4,0.4,0.2, 0.4,0.2,0.0,0.0, 0.0];
const pC3 = [0,7.2,1.2,0.8, 0.6,1.0,2.6,8.2, 8.8,3.0,2.0,1.4, 1.0,0.6,1.0,1.6, 3.0,2.6,1.8,1.4, 1.2,1.8,2.6,1.4, 2.2,1.6,1.2,2.0, 3.0,1.8,1.4,2.2, 1.6,2.6,1.8,1.2, 2.4,1.8,2.8,1.6, 2.2,1.4,2.6,3.4, 2.0,2.8,1.8,2.4, 3.2,2.2,1.6,2.6, 3.8,2.4,1.8,2.8, 2.2,3.6,2.0,1.6, 3.4,4.8,2.2,1.2, 0.8];

// ---- styles per run ----
const runStyle = {
  green:   {line:'#00b400', mark:'#008000'},
  magenta: {line:'#c800c8', mark:'#d8a000'},
  yellow:  {line:'#c8c800', mark:'#909000'},
  cyan:    {line:'#00c8c8', mark:'#0000ff'}
};
function member(data, run, axis){
  const s = runStyle[run];
  return {data, yAxisID:axis, borderColor:s.line, borderWidth:1, pointStyle:'cross',
    pointRadius:2.5, pointBorderColor:s.mark, pointBorderWidth:1, pointHoverRadius:0, fill:false, tension:0};
}
function meanSet(data, axis){
  return {data, yAxisID:axis, borderColor:'#ff0000', borderWidth:4, pointRadius:0, fill:false, tension:0};
}
const datasets = [
  meanSet(tempMean,'y'), meanSet(precipMean,'y2'),
  ...[tG1,tG2,tG3,tG4,tG5,tG6,tG7,tG8,tG9,tG10,tG11,tG12,tG13,tG14,tG15,tG16,tG17,tG18,tG19,tG20,tG21].map(d=>member(d,'green','y')),
  ...[pG1,pG2,pG3,pG4,pG5,pG6,pG7,pG8,pG9,pG10,pG11].map(d=>member(d,'green','y2')),
  ...[tM1,tM2,tM3,tM4,tM5,tM6].map(d=>member(d,'magenta','y')),
  ...[pM1,pM2,pM3,pM4].map(d=>member(d,'magenta','y2')),
  ...[tY1,tY2,tY3,tY4,tY5].map(d=>member(d,'yellow','y')),
  ...[pY1,pY2,pY3,pY4].map(d=>member(d,'yellow','y2')),
  ...[tC1,tC2,tC3,tC4,tC5,tC6].map(d=>member(d,'cyan','y')),
  ...[pC1,pC2,pC3].map(d=>member(d,'cyan','y2'))
];

const zeroLine = {
  id:'zeroLine',
  beforeDatasetsDraw(chart){
    const {ctx, chartArea:a, scales} = chart;
    const y0 = Math.round(scales.y.getPixelForValue(0));
    ctx.save();
    ctx.fillStyle = '#000';
    ctx.fillRect(a.left, y0-1, a.right-a.left, 1.2);
    ctx.fillRect(a.left, y0+2, a.right-a.left, 1.2);
    ctx.restore();
  }
};

const tickFont = {family:'"Liberation Sans", Arial, sans-serif', size:10};
new Chart(document.getElementById('c'), {
  type:'line',
  data:{labels:steps, datasets},
  plugins:[zeroLine],
  options:{
    responsive:false, animation:false, devicePixelRatio:1,
    layout:{padding:{left:0,right:0,top:0,bottom:0}},
    plugins:{legend:{display:false}, tooltip:{enabled:false}},
    events:[],
    scales:{
      x:{
        type:'category', offset:false,
        grid:{color:'#c0c0c0', lineWidth:1, drawTicks:false},
        border:{display:true, color:'#000', width:1},
        ticks:{autoSkip:false, minRotation:90, maxRotation:90, padding:3, labelOffset:7, color:'#000',
          font:{family:'"DejaVu Sans Mono", monospace', size:10},
          callback(v, i){ return (i>=2 && (i-2)%4===0) ? dayLabels[(i-2)/4] : null; }},
        afterFit(s){ s.height = 50; }
      },
      y:{
        position:'left', min:-300/7, max:300/7,
        grid:{color:'#c0c0c0', lineWidth:1, drawTicks:false},
        border:{display:true, color:'#000', width:1},
        ticks:{padding:19, labelOffset:3, color:'#000', font:tickFont, callback:v=>String(v)},
        afterBuildTicks(s){ s.ticks = tempTicks.map(v=>({value:v})); },
        afterFit(s){ s.width = 50; }
      },
      y2:{
        position:'right', min:-300/7+35, max:300/7+35,
        grid:{display:false, drawTicks:false},
        border:{display:true, color:'#000', width:1},
        ticks:{padding:22, labelOffset:3, color:'#000', font:tickFont, callback:v=>String(v)},
        afterBuildTicks(s){ s.ticks = precipTicks.map(v=>({value:v})); },
        afterFit(s){ s.width = 50; }
      }
    }
  }
});
</script>
</body>
</html>
